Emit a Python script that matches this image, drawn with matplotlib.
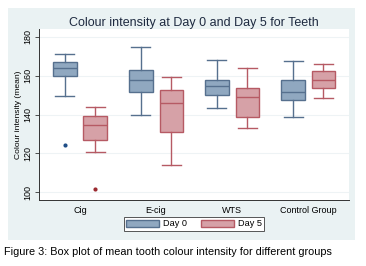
import matplotlib
matplotlib.use("Agg")
import matplotlib.pyplot as plt
from matplotlib.patches import Patch, Rectangle

plt.rcParams['font.family'] = ['Liberation Sans', 'DejaVu Sans']

groups = ['Cig', 'E-cig', 'WTS', 'Control Group']
series = ['Day 0', 'Day 5']

# per group: whisker low, Q1, median, Q3, whisker high
day0_lo = [149.5, 139.6, 143.2, 138.7]
day0_q1 = [159.7, 151.4, 149.9, 147.6]
day0_med = [164.2, 157.8, 154.5, 151.6]
day0_q3 = [167.0, 163.0, 157.6, 157.8]
day0_hi = [171.2, 175.0, 168.1, 167.8]
day0_out = [[124.2], [], [], []]

day5_lo = [120.5, 113.9, 132.9, 148.7]
day5_q1 = [126.8, 131.1, 138.5, 153.8]
day5_med = [134.4, 146.1, 148.9, 157.6]
day5_q3 = [139.0, 152.6, 153.5, 162.6]
day5_hi = [143.7, 159.2, 164.2, 165.9]
day5_out = [[101.4], [], [], []]

fill0, edge0, dot0 = '#90a8c0', '#56708e', '#1f4e87'
fill5, edge5, dot5 = '#d6a1a7', '#b65a64', '#9b2a30'


def make_stats(lo, q1, med, q3, hi, out):
    stats = []
    for i in range(len(lo)):
        stats.append({'whislo': lo[i], 'q1': q1[i], 'med': med[i],
                      'q3': q3[i], 'whishi': hi[i], 'fliers': out[i]})
    return stats


fig = plt.figure(figsize=(3.66, 2.66), dpi=100)
fig.patches.append(Rectangle((0.022, 0.098), 0.948, 0.872, transform=fig.transFigure,
                             facecolor='#eaf2f3', edgecolor='none', zorder=-5))
ax = fig.add_axes([0.1074, 0.248, 0.846, 0.643])
ax.set_zorder(2)

pos = list(range(1, len(groups) + 1))
for stats, off, fc, ec, dc in [(make_stats(day0_lo, day0_q1, day0_med, day0_q3, day0_hi, day0_out), -0.2, fill0, edge0, dot0),
                               (make_stats(day5_lo, day5_q1, day5_med, day5_q3, day5_hi, day5_out), 0.2, fill5, edge5, dot5)]:
    ax.bxp(stats, positions=[p + off for p in pos], widths=0.31, patch_artist=True,
           capwidths=0.25, manage_ticks=False,
           boxprops=dict(facecolor=fc, edgecolor=ec, linewidth=1.0),
           medianprops=dict(color=ec, linewidth=1.0),
           whiskerprops=dict(color=ec, linewidth=1.0),
           capprops=dict(color=ec, linewidth=1.0),
           flierprops=dict(marker='o', markersize=3, markerfacecolor=dc, markeredgecolor='none'))

ax.set_xlim(0.465, 4.535)
ax.set_ylim(95.9, 184.1)
ax.set_xticks(pos)
ax.set_xticklabels(groups, fontsize=6.5)
ax.set_yticks([100, 120, 140, 160, 180])
ax.set_yticklabels(['100', '120', '140', '160', '180'], rotation=90, va='center', fontsize=6.5)
ax.tick_params(axis='x', length=0, pad=4)
ax.tick_params(axis='y', length=3, width=0.6, color='#333333', pad=2)
ax.grid(axis='y', color='#eef3f5', linewidth=0.8)
ax.set_axisbelow(True)
for s in ['top', 'right']:
    ax.spines[s].set_visible(False)
for s in ['left', 'bottom']:
    ax.spines[s].set_color('#333333')
    ax.spines[s].set_linewidth(0.7)
ax.set_ylabel('Colour intensity (mean)', fontsize=6.1, labelpad=1)
ax.set_title('Colour intensity at Day 0 and Day 5 for Teeth', fontsize=9.0, color='#1e2a40', pad=2.5)

handles = [Patch(facecolor=fill0, edgecolor=edge0, label=series[0]),
           Patch(facecolor=fill5, edgecolor=edge5, label=series[1])]
leg = fig.legend(handles=handles, loc='center', bbox_to_anchor=(0.53, 0.158), ncol=2,
                 fontsize=6.6, handlelength=3.6, handleheight=0.9, columnspacing=1.5,
                 fancybox=False, framealpha=1, edgecolor='#555555', borderpad=0.3,
                 handletextpad=0.4)
leg.get_frame().set_linewidth(0.7)

fig.text(0.012, 0.053, 'Figure 3: Box plot of mean tooth colour intensity for different groups',
         fontsize=7.8, va='center', ha='left')

fig.savefig('out.png', dpi=100)
